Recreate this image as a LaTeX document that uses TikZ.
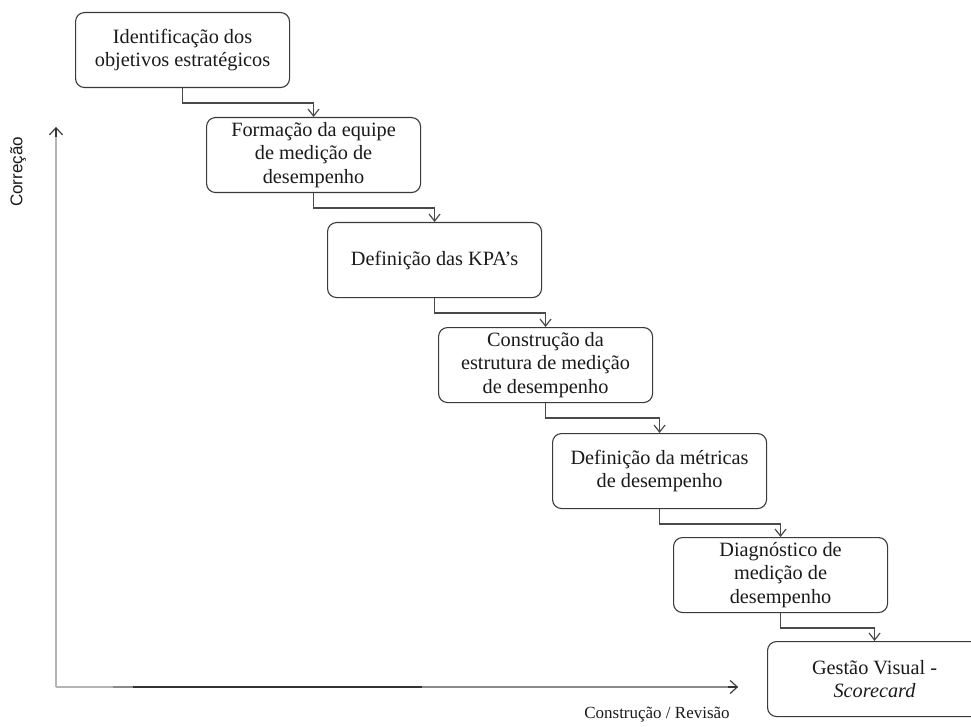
\documentclass[tikz,border=0pt]{standalone}
\usepackage{fontspec}
\setmainfont{Liberation Serif}
\newfontfamily\axisfont{Liberation Sans}
\usetikzlibrary{arrows.meta,calc}
\definecolor{boxline}{HTML}{3A3A3A}
\definecolor{connline}{HTML}{4A4A4A}
\definecolor{axislight}{HTML}{B4B4B4}
\definecolor{axismid}{HTML}{8A8A8A}
\definecolor{axisdark}{HTML}{333333}
\definecolor{txt}{HTML}{1A1A1A}
\tikzset{
  stagebox/.style={draw=boxline, line width=1.1pt, rounded corners=9pt,
    minimum width=214pt, minimum height=75pt, anchor=north west,
    align=center, inner sep=2pt, text=txt,
    font=\fontsize{20.3}{23.3}\selectfont},
  conn/.style={draw=connline, line width=1.3pt,
    -{Straight Barb[length=7pt,width=11pt,line width=1.2pt]}},
  axistip/.style={-{Straight Barb[length=7pt,width=13pt,line width=1.1pt]}},
  axislabel/.style={text=txt, inner sep=0pt}
}
\begin{document}
\begin{tikzpicture}[x=1pt,y=-1pt]
  \useasboundingbox (0,0) rectangle (971,727);
  \clip (0,0) rectangle (971,727);

  % process stages, stepping down to the right
  \node[stagebox] (s1) at (75,12)  {Identificação dos\\objetivos estratégicos};
  \node[stagebox] (s2) at (206,117) {Formação da equipe\\de medição de\\desempenho};
  \node[stagebox] (s3) at (327,222) {Definição das KPA’s};
  \node[stagebox] (s4) at (438,327) {Construção da\\estrutura de medição\\de desempenho};
  \node[stagebox] (s5) at (552,433) {Definição da métricas\\de desempenho};
  \node[stagebox] (s6) at (673,537) {Diagnóstico de\\medição de\\desempenho};
  \node[stagebox] (s7) at (767,641) {Gestão Visual -\\\textit{Scorecard}};

  % elbow connectors between consecutive stages
  \foreach \a/\b in {s1/s2,s2/s3,s3/s4,s4/s5,s5/s6,s6/s7}{
    \draw[conn] (\a.south) -- ++(0,15) -| (\b.north);
  }

  % axes
  \coordinate (origin) at (56,687);
  \coordinate (ytop) at (56,127);
  \coordinate (xend) at (738,687);
  \coordinate (xd1) at (133,687);
  \coordinate (xd2) at (422,687);
  \coordinate (xl2) at (113,687);

  \draw[axislight, line width=1.6pt] (origin) -- (ytop);
  \draw[axisdark, line width=1.1pt, axistip] ($(ytop)+(0,10)$) -- (ytop);
  \draw[axismid, line width=1.3pt] (origin) -- (xend);
  \draw[axislight, line width=1.6pt] (origin) -- (xl2);
  \draw[axisdark, line width=1.6pt] (xd1) -- (xd2);
  \draw[axisdark, line width=1.1pt, axistip] ($(xend)+(-10,0)$) -- (xend);

  \node[axislabel, rotate=90, font=\axisfont\fontsize{17}{20}\selectfont] (ylab) at (18,172) {Correção};
  \node[axislabel, font=\fontsize{17}{20}\selectfont] (xlab) at (657,715) {Construção / Revisão};
\end{tikzpicture}
\end{document}
